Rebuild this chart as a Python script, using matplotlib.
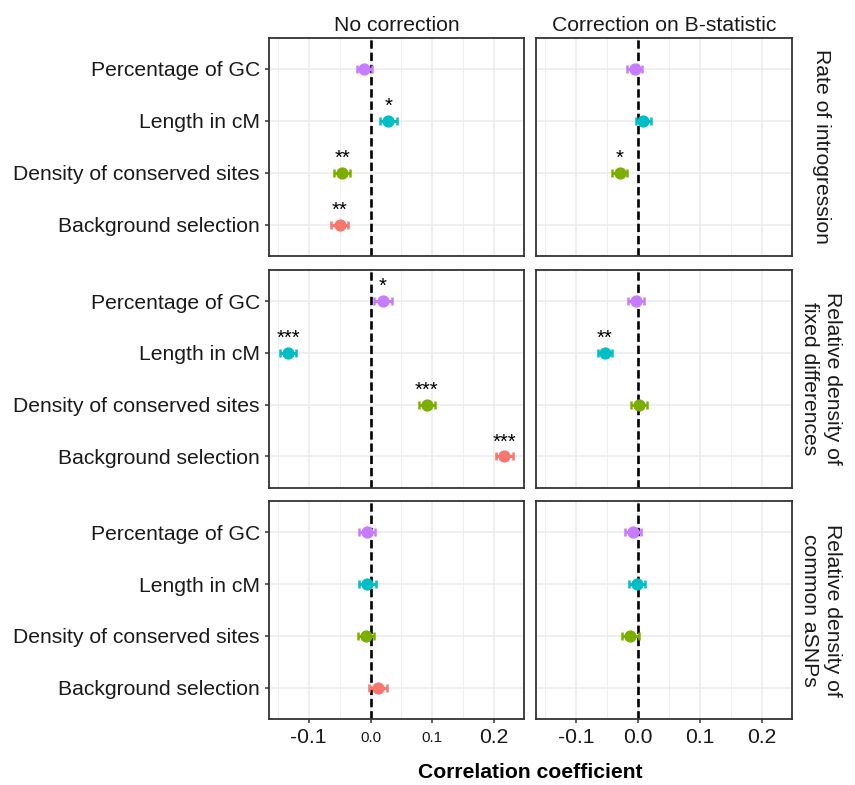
import numpy as np
import matplotlib
matplotlib.use("Agg")
import matplotlib.pyplot as plt
from matplotlib.ticker import MultipleLocator

plt.rcParams['font.family'] = ['Liberation Sans', 'DejaVu Sans']
plt.rcParams['lines.scale_dashes'] = False

# data
categories = ["Percentage of GC", "Length in cM", "Density of conserved sites", "Background selection"]
colors = ["#C77CFF", "#00BFC4", "#7CAE00", "#F8766D"]
col_labels = ["No correction", "Correction on B-statistic"]
row_labels = ["Rate of introgression", "Relative density of\nfixed differences", "Relative density of\ncommon aSNPs"]

nocorr_intro = [-0.010, 0.029, -0.046, -0.050]
nocorr_fixed = [0.020, -0.133, 0.091, 0.216]
nocorr_asnp = [-0.006, -0.005, -0.007, 0.012]
bcorr_intro = [-0.005, 0.009, -0.029, np.nan]
bcorr_fixed = [-0.003, -0.053, 0.002, np.nan]
bcorr_asnp = [-0.008, -0.001, -0.012, np.nan]

nocorr_intro_err = [0.012, 0.013, 0.013, 0.014]
nocorr_fixed_err = [0.014, 0.013, 0.013, 0.014]
nocorr_asnp_err = [0.013, 0.014, 0.013, 0.014]
bcorr_intro_err = [0.012, 0.012, 0.012, np.nan]
bcorr_fixed_err = [0.013, 0.012, 0.013, np.nan]
bcorr_asnp_err = [0.013, 0.013, 0.013, np.nan]

nocorr_intro_sig = ["", "*", "**", "**"]
nocorr_fixed_sig = ["*", "***", "***", "***"]
nocorr_asnp_sig = ["", "", "", ""]
bcorr_intro_sig = ["", "", "*", ""]
bcorr_fixed_sig = ["", "**", "", ""]
bcorr_asnp_sig = ["", "", "", ""]

x_ticks = [-0.1, 0.0, 0.1, 0.2]
x_ticklabels = ["-0.1", "0.0", "0.1", "0.2"]

panels = [
    [(nocorr_intro, nocorr_intro_err, nocorr_intro_sig), (bcorr_intro, bcorr_intro_err, bcorr_intro_sig)],
    [(nocorr_fixed, nocorr_fixed_err, nocorr_fixed_sig), (bcorr_fixed, bcorr_fixed_err, bcorr_fixed_sig)],
    [(nocorr_asnp, nocorr_asnp_err, nocorr_asnp_sig), (bcorr_asnp, bcorr_asnp_err, bcorr_asnp_sig)],
]

W, H = 855, 785
fig = plt.figure(figsize=(W / 100, H / 100), dpi=100)

col_x = [(269, 524), (536, 792)]
row_y = [(37.7, 256), (270, 487.5), (501, 719)]
text_col = "#1A1A1A"
fs = 15.2

for r in range(3):
    for c in range(2):
        x0, x1 = col_x[c]
        yt, yb = row_y[r]
        ax = fig.add_axes([x0 / W, 1 - yb / H, (x1 - x0) / W, (yb - yt) / H])
        vals, errs, sigs = panels[r][c]

        ax.set_xlim(-0.164, 0.248)
        ax.set_ylim(3.6, -0.6)
        ax.xaxis.set_minor_locator(MultipleLocator(0.05))
        ax.set_xticks(x_ticks)
        ax.set_yticks(range(len(categories)))
        ax.grid(which='major', color='#EBEBEB', lw=1.1)
        ax.grid(which='minor', axis='x', color='#EBEBEB', lw=0.6)
        ax.set_axisbelow(True)
        ax.tick_params(which='minor', length=0)
        ax.tick_params(which='major', length=3, width=1.1, color='#333333', labelsize=fs, labelcolor=text_col)
        if c == 1:
            ax.tick_params(axis='y', length=0)
        if r < 2:
            ax.tick_params(axis='x', length=0)
        for sp in ax.spines.values():
            sp.set_color('#333333')
            sp.set_linewidth(1.3)

        ax.axvline(0, color='black', lw=1.9, ls=(0, (6, 2.8)), zorder=2)

        for i in range(len(categories)):
            if np.isnan(vals[i]):
                continue
            ax.errorbar(vals[i], i, xerr=errs[i], fmt='o', color=colors[i], ms=7.8,
                        elinewidth=2.2, capsize=2.8, capthick=1.8, zorder=3)
            if sigs[i]:
                ax.annotate(sigs[i], (vals[i], i), xytext=(0, 6.5), textcoords='offset points',
                            ha='center', va='baseline', fontsize=14.5, color='black')

        if c == 0:
            ax.set_yticklabels(categories)
        else:
            ax.set_yticklabels([])
        if r == 2:
            ax.set_xticklabels(x_ticklabels)
            if c == 0:
                # the middle two labels are smaller in the original
                for lab in ax.get_xticklabels()[1:3]:
                    lab.set_fontsize(11)
                    lab.set_va('top')
                    lab.set_y(-0.012)
        else:
            ax.set_xticklabels([])

        if r == 0:
            ax.set_title(col_labels[c], fontsize=fs, color=text_col, pad=5)
        if c == 1:
            ax.text(1.0 + 29 / (x1 - x0), 0.5, row_labels[r], transform=ax.transAxes,
                    rotation=-90, ha='center', va='center', fontsize=fs, color=text_col,
                    multialignment='center', linespacing=1.25)

fig.text(530 / W, 1 - 772 / H, "Correlation coefficient", ha='center', va='center',
         fontsize=fs, fontweight='bold', color='black')

fig.savefig("out.png", dpi=100)
